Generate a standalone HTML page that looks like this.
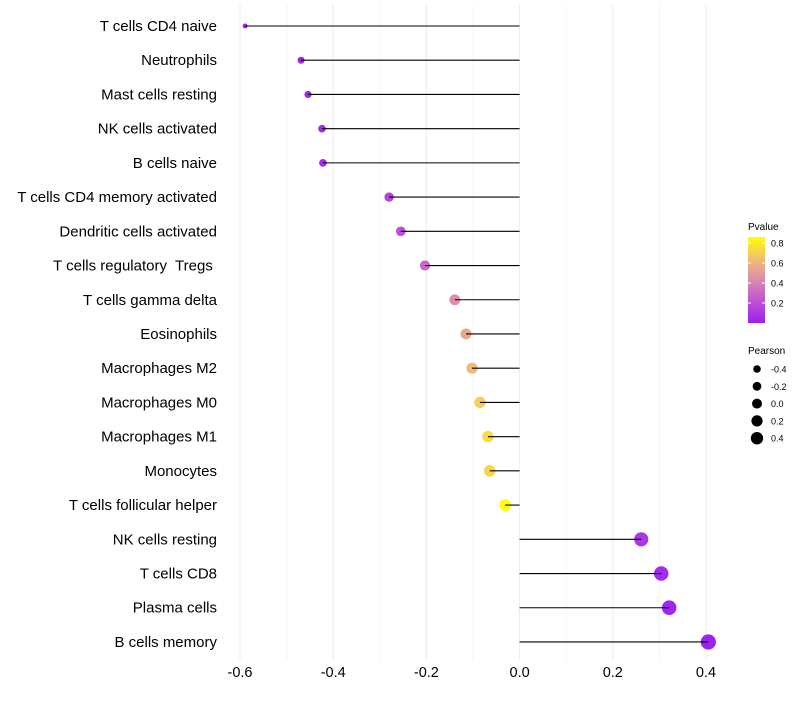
<!DOCTYPE html>
<html><head><meta charset="utf-8"><style>
body{margin:0;background:#fff;font-family:"Liberation Sans",sans-serif}
svg text{font-family:"Liberation Sans",sans-serif;white-space:pre}
</style></head><body>
<svg id="c" width="800" height="700"></svg>
<script>
const categories=["T cells CD4 naive","Neutrophils","Mast cells resting","NK cells activated","B cells naive","T cells CD4 memory activated","Dendritic cells activated","T cells regulatory  Tregs ","T cells gamma delta","Eosinophils","Macrophages M2","Macrophages M0","Macrophages M1","Monocytes","T cells follicular helper","NK cells resting","T cells CD8","Plasma cells","B cells memory"];
const pearson=[-0.589,-0.469,-0.454,-0.424,-0.422,-0.280,-0.255,-0.203,-0.139,-0.115,-0.102,-0.085,-0.068,-0.064,-0.031,0.261,0.304,0.321,0.405];
const pvalue=[0.01,0.02,0.03,0.04,0.05,0.15,0.2,0.3,0.45,0.55,0.62,0.7,0.75,0.72,0.86,0.1,0.05,0.03,0.01];
const xTicks=[-0.6,-0.4,-0.2,0.0,0.2,0.4];
const pTicks=[0.2,0.4,0.6,0.8];
const sizeTicks=[-0.4,-0.2,0.0,0.2,0.4];

const NS="http://www.w3.org/2000/svg";
const svg=document.getElementById('c');
function el(t,a,p){const e=document.createElementNS(NS,t);for(const k in a)e.setAttribute(k,a[k]);(p||svg).appendChild(e);return e;}
const x=v=>519.6+v*466;
const y=i=>26+i*34.22;
const r=v=>Math.sqrt(Math.max(1,6+52*(v+0.59)));
const stops=[[0,[155,31,242]],[0.25,[196,90,208]],[0.45,[222,143,168]],[0.65,[242,192,112]],[0.86,[255,255,0]]];
function col(p){for(let i=1;i<stops.length;i++){if(p<=stops[i][0]){const a=stops[i-1],b=stops[i],t=(p-a[0])/(b[0]-a[0]);return 'rgb('+a[1].map((c,j)=>Math.round(c+(b[1][j]-c)*t)).join(',')+')';}}return 'rgb(255,255,0)';}

for(let v=-0.6;v<=0.41;v+=0.1){const g=el('line',{x1:x(v),x2:x(v),y1:5,y2:660,stroke:Math.abs(Math.round(v*10))%2==0?'#ebebeb':'#f4f4f4','stroke-width':1});}
xTicks.forEach(v=>{const t=el('text',{x:x(v),y:677,'text-anchor':'middle','font-size':14.5,fill:'#000'});t.textContent=v.toFixed(1);});
categories.forEach((c,i)=>{
 const t=el('text',{x:217,y:y(i)+5,'text-anchor':'end','font-size':15,fill:'#000'});t.textContent=c;
 
 const d=el('circle',{cx:x(pearson[i]),cy:y(i),r:r(pearson[i]),fill:col(pvalue[i])});
 
 const l=el('line',{x1:x(0),x2:x(pearson[i]),y1:y(i),y2:y(i),stroke:'#000','stroke-width':1.1});
 
});
let t=el('text',{x:748,y:230,'font-size':10,fill:'#000'});t.textContent='Pvalue';
const defs=el('defs',{});const gr=el('linearGradient',{id:'pg',x1:0,y1:1,x2:0,y2:0},defs);
stops.forEach(s=>el('stop',{offset:(s[0]/0.86),'stop-color':'rgb('+s[1].join(',')+')'},gr));
const cb=el('rect',{x:748,y:237,width:17,height:86,fill:'url(#pg)'});
pTicks.forEach(p=>{const yy=323-p*100;el('line',{x1:748,x2:751,y1:yy,y2:yy,stroke:'#fff'});el('line',{x1:762,x2:765,y1:yy,y2:yy,stroke:'#fff'});
 const k=el('text',{x:771,y:yy+3.5,'font-size':9,fill:'#000'});k.textContent=p.toFixed(1);});
t=el('text',{x:748,y:354,'font-size':10,fill:'#000'});t.textContent='Pearson';
sizeTicks.forEach((v,i)=>{const yy=369+i*17.3;const c=el('circle',{cx:757,cy:yy,r:3.8+i*0.6,fill:'#000'});
 const k=el('text',{x:771,y:yy+3.5,'font-size':9,fill:'#000'});k.textContent=v.toFixed(1);});
</script>
</body></html>
